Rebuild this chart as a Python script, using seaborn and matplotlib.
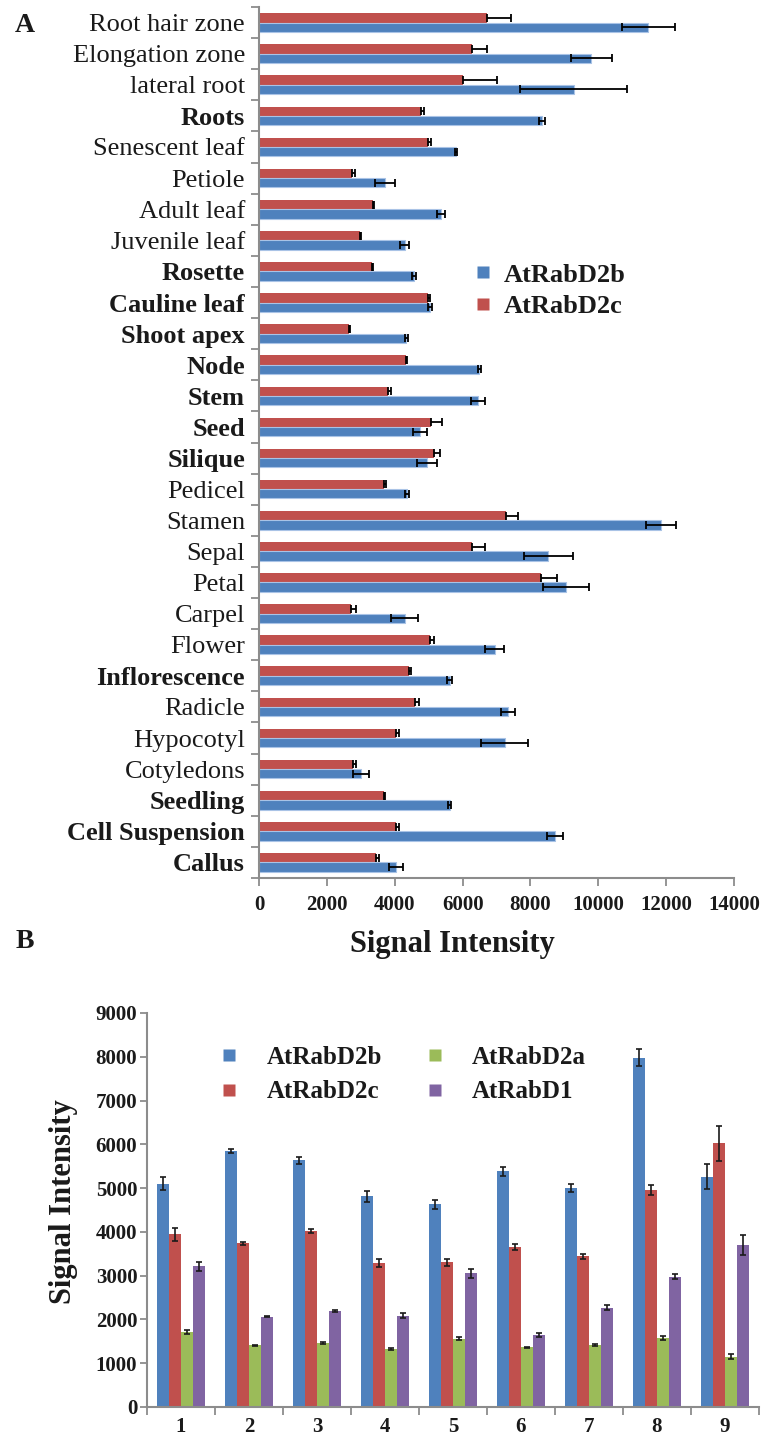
import matplotlib
matplotlib.use("Agg")
import matplotlib.pyplot as plt
from matplotlib.lines import Line2D
import numpy as np
import pandas as pd
import seaborn as sns

# panel A: tissues, top to bottom
tissues = ["Root hair zone", "Elongation zone", "lateral root", "Roots", "Senescent leaf",
           "Petiole", "Adult leaf", "Juvenile leaf", "Rosette", "Cauline leaf", "Shoot apex",
           "Node", "Stem", "Seed", "Silique", "Pedicel", "Stamen", "Sepal", "Petal", "Carpel",
           "Flower", "Inflorescence", "Radicle", "Hypocotyl", "Cotyledons", "Seedling",
           "Cell Suspension", "Callus"]
bold_tissues = {"Roots", "Rosette", "Cauline leaf", "Shoot apex", "Node", "Stem", "Seed",
                "Silique", "Inflorescence", "Seedling", "Cell Suspension", "Callus"}

rabd2b = [11470, 9790, 9270, 8330, 5810, 3710, 5360, 4300, 4560, 5030, 4340, 6490, 6460,
          4750, 4950, 4370, 11850, 8520, 9050, 4290, 6950, 5620, 7340, 7240, 3000, 5620,
          8730, 4030]
rabd2b_err = [780, 600, 1580, 90, 20, 290, 110, 130, 60, 60, 50, 40, 200, 200, 300, 60,
              450, 720, 690, 400, 280, 80, 200, 700, 240, 50, 230, 200]
rabd2c = [6720, 6280, 6010, 4780, 4970, 2750, 3370, 2970, 3330, 4970, 2650, 4320, 3810,
          5070, 5170, 3690, 7280, 6280, 8310, 2720, 5040, 4420, 4610, 4050, 2780, 3690,
          4030, 3450]
rabd2c_err = [710, 440, 1000, 70, 100, 70, 30, 50, 30, 60, 30, 30, 90, 330, 150, 50, 350,
              380, 470, 130, 130, 60, 120, 80, 80, 30, 100, 100]

# panel B: samples 1-9
samples = ["1", "2", "3", "4", "5", "6", "7", "8", "9"]
b_d2b = [5100, 5850, 5640, 4810, 4630, 5380, 5000, 7980, 5260]
b_d2b_err = [150, 50, 80, 120, 100, 100, 90, 200, 290]
b_d2c = [3950, 3740, 4020, 3280, 3310, 3660, 3440, 4960, 6020]
b_d2c_err = [150, 40, 40, 90, 80, 70, 50, 110, 400]
b_d2a = [1710, 1410, 1460, 1320, 1560, 1360, 1420, 1580, 1150]
b_d2a_err = [40, 15, 30, 25, 40, 10, 25, 40, 50]
b_d1 = [3210, 2060, 2190, 2090, 3050, 1640, 2270, 2980, 3700]
b_d1_err = [110, 15, 25, 50, 100, 40, 50, 60, 230]

colors = {"AtRabD2b": "#4F81BD", "AtRabD2c": "#C0504D",
          "AtRabD2a": "#9BBB59", "AtRabD1": "#8064A2"}
grey = "#8c8c8c"
ink = "#1a1a1a"

sns.set_style("white")
plt.rcParams["font.family"] = ["Liberation Serif", "DejaVu Serif"]
plt.rcParams["text.color"] = ink

fig = plt.figure(figsize=(7.68, 14.36), dpi=100)
W, H = 768, 1436
axA = fig.add_axes([259 / W, 1 - 878 / H, 475 / W, 871 / H])
axB = fig.add_axes([147 / W, 1 - 1407 / H, 612 / W, 394 / H])

# ---- panel A ----
dfA = pd.concat([
    pd.DataFrame({"tissue": tissues, "signal": rabd2c, "gene": "AtRabD2c"}),
    pd.DataFrame({"tissue": tissues, "signal": rabd2b, "gene": "AtRabD2b"}),
])
sns.barplot(data=dfA, y="tissue", x="signal", hue="gene", order=tissues,
            hue_order=["AtRabD2c", "AtRabD2b"], palette=colors, orient="h",
            width=0.6, errorbar=None, legend=False, ax=axA, saturation=1,
            linewidth=0, edgecolor="none")
for p in axA.containers[1]:
    p.set_edgecolor("#a9c3e6")
    p.set_linewidth(0.8)

n = len(tissues)
for cont, err, plus_only in [(axA.containers[0], rabd2c_err, True),
                             (axA.containers[1], rabd2b_err, False)]:
    ys = [p.get_y() + p.get_height() / 2 for p in cont]
    xs = [p.get_width() for p in cont]
    xerr = [np.zeros(n), err] if plus_only else err
    axA.errorbar(xs, ys, xerr=xerr, fmt="none", ecolor="black", elinewidth=1.3,
                 capsize=3, capthick=1.3, zorder=5)

axA.set_xlim(0, 14000)
axA.set_ylim(n - 0.5, -0.5)
axA.set_xticks(range(0, 14001, 2000))
axA.set_xticklabels([str(v) for v in range(0, 14001, 2000)], fontsize=15,
                    fontweight="bold", color=ink)
axA.set_yticks(range(n))
axA.set_yticklabels(tissues, fontsize=19, color=ink)
for lab in axA.get_yticklabels():
    if lab.get_text() in bold_tissues:
        lab.set_fontweight("bold")
axA.set_yticks(np.arange(-0.5, n, 1), minor=True)
axA.tick_params(axis="y", which="major", length=0, pad=10)
axA.tick_params(axis="y", which="minor", left=True, length=6, width=1.3, color=grey)
axA.tick_params(axis="x", which="major", bottom=True, length=6, width=1.3, color=grey, pad=6)
for s in ["top", "right"]:
    axA.spines[s].set_visible(False)
for s in ["left", "bottom"]:
    axA.spines[s].set_color(grey)
    axA.spines[s].set_linewidth(1.5)
axA.set_ylabel("")
axA.set_xlabel("Signal Intensity", fontsize=22, fontweight="bold", color=ink)
axA.xaxis.set_label_coords(0.408, -0.06)

handlesA = [Line2D([], [], marker="s", linestyle="none", markersize=8,
                   markerfacecolor=colors[g], markeredgecolor="none")
            for g in ["AtRabD2b", "AtRabD2c"]]
axA.legend(handlesA, ["AtRabD2b", "AtRabD2c"], loc="center", bbox_to_anchor=(0.613, 0.6745),
           frameon=False, prop=dict(weight="bold", size=19), handletextpad=0.5,
           labelspacing=0.3, handlelength=0.6)

# ---- panel B ----
genesB = ["AtRabD2b", "AtRabD2c", "AtRabD2a", "AtRabD1"]
valsB = [b_d2b, b_d2c, b_d2a, b_d1]
errsB = [b_d2b_err, b_d2c_err, b_d2a_err, b_d1_err]
dfB = pd.concat([pd.DataFrame({"sample": samples, "signal": v, "gene": g})
                 for g, v in zip(genesB, valsB)])
sns.barplot(data=dfB, x="sample", y="signal", hue="gene", order=samples,
            hue_order=genesB, palette=colors, width=0.72, errorbar=None,
            legend=False, ax=axB, saturation=1, linewidth=0, edgecolor="none")
for cont, err in zip(axB.containers, errsB):
    xs = [p.get_x() + p.get_width() / 2 for p in cont]
    ys = [p.get_height() for p in cont]
    axB.errorbar(xs, ys, yerr=err, fmt="none", ecolor=ink, elinewidth=1.2,
                 capsize=2.5, capthick=1.2, zorder=5)

m = len(samples)
axB.set_xlim(-0.5, m - 0.5)
axB.set_ylim(0, 9000)
axB.set_yticks(range(0, 9001, 1000))
axB.set_yticklabels([str(v) for v in range(0, 9001, 1000)], fontsize=15,
                    fontweight="bold", color=ink)
axB.set_xticks(range(m))
axB.set_xticklabels(samples, fontsize=15, fontweight="bold", color=ink)
axB.set_xticks(np.arange(-0.5, m, 1), minor=True)
axB.tick_params(axis="x", which="major", length=0, pad=7)
axB.tick_params(axis="x", which="minor", bottom=True, length=6, width=1.3, color=grey)
axB.tick_params(axis="y", which="major", left=True, length=5, width=1.3, color=grey, pad=2)
for s in ["top", "right"]:
    axB.spines[s].set_visible(False)
for s in ["left", "bottom"]:
    axB.spines[s].set_color(grey)
    axB.spines[s].set_linewidth(1.5)
axB.set_xlabel("")
axB.set_ylabel("Signal Intensity", fontsize=22, fontweight="bold", color=ink)
axB.yaxis.set_label_coords(-0.112, 0.52)

handlesB = [Line2D([], [], marker="s", linestyle="none", markersize=8,
                   markerfacecolor=colors[g], markeredgecolor="none") for g in genesB]
axB.legend(handlesB, genesB, ncol=2, loc="center", bbox_to_anchor=(0.42, 0.843),
           frameon=False, prop=dict(weight="bold", size=18), columnspacing=1.8,
           handletextpad=1.2, labelspacing=0.45, handlelength=0.6)

fig.text(25 / W, 1 - 26 / H, "A", fontsize=20, fontweight="bold", ha="center", va="center")
fig.text(25 / W, 1 - 942 / H, "B", fontsize=20, fontweight="bold", ha="center", va="center")

fig.savefig("out.png", dpi=100)
